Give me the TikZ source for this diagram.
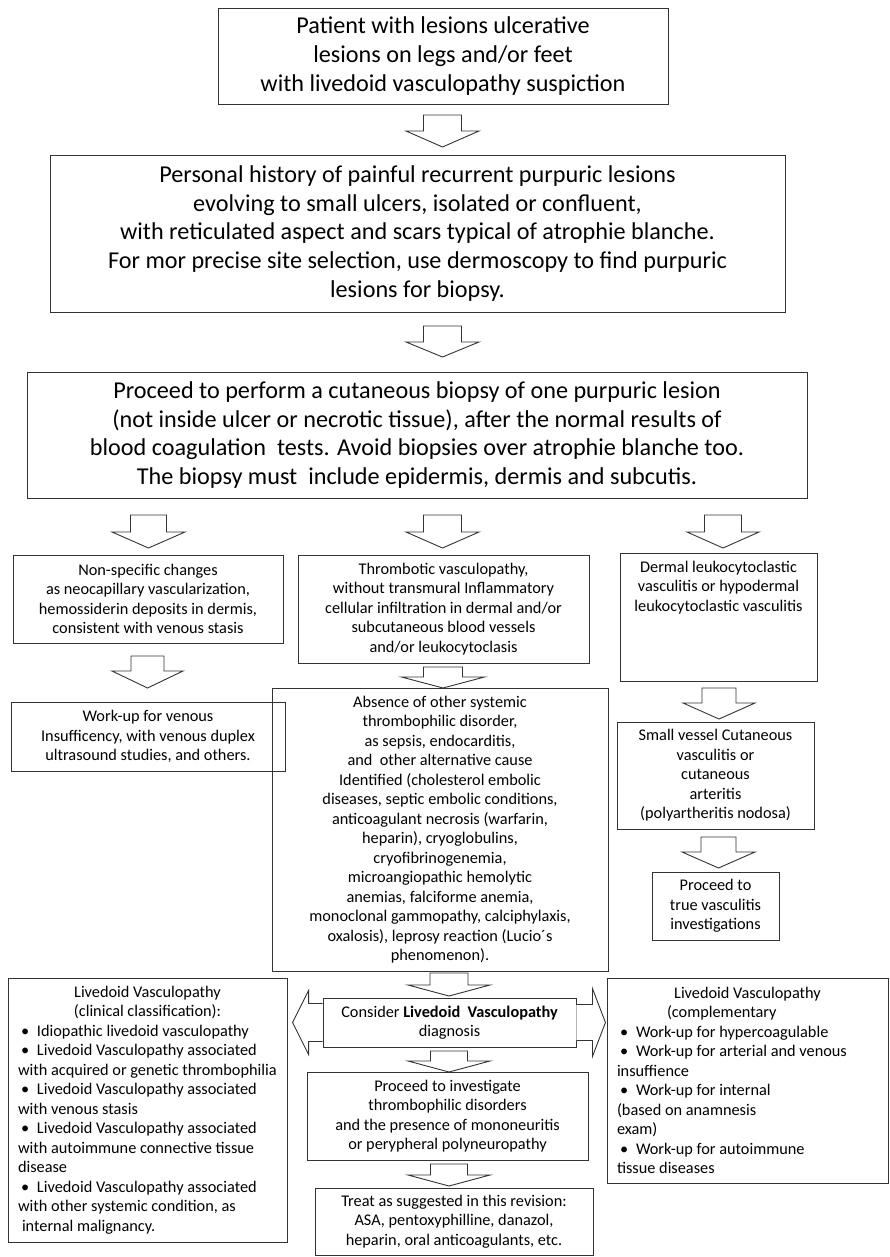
\documentclass[tikz,border=0pt]{standalone}
\usepackage{fontspec}
\setmainfont{Carlito}
\newcommand{\bigfont}{\fontsize{24.2}{28.6}\selectfont}
\newcommand{\smallfont}{\fontsize{16.3}{19.5}\selectfont}
\newcommand{\bul}{\hspace*{3pt}\makebox[16pt][l]{\textbullet}}
\tikzset{
  box/.style={draw=black!80, line width=0.9pt, align=center, inner sep=0pt},
  bigbox/.style={box, font=\bigfont},
  smallbox/.style={box, font=\smallfont},
  listbox/.style={box, font=\smallfont, align=left},
  blockarrow/.style={draw=black!80, line width=0.9pt, fill=white, line join=miter},
  % down block arrow: stem half width, head half width, length, stem length
  pics/dnarrow/.style n args={4}{code={
    \draw[blockarrow] (-#1,0) -- (#1,0) -- (#1,#4) -- (#2,#4) -- (0,#3)
      -- (-#2,#4) -- (-#1,#4) -- cycle;
  }},
  pics/ltarrow/.style n args={4}{code={
    \draw[blockarrow] (0,-#1) -- (-#4,-#1) -- (-#4,-#2) -- (-#3,0)
      -- (-#4,#2) -- (-#4,#1) -- (0,#1);
  }},
  pics/rtarrow/.style n args={4}{code={
    \draw[blockarrow] (0,-#1) -- (#4,-#1) -- (#4,-#2) -- (#3,0)
      -- (#4,#2) -- (#4,#1) -- (0,#1);
  }}
}
\begin{document}
\begin{tikzpicture}[x=1pt, y=-1pt]
\useasboundingbox (0,0) rectangle (889,1257);

% main column
\node[bigbox, minimum width=450, minimum height=96] (patient) at (443,56)
  {Patient with lesions ulcerative\\lesions on legs and/or feet\\with livedoid vasculopathy suspiction};
\node[bigbox, minimum width=735, minimum height=157] (history) at (417.5,233.5)
  {Personal history of painful recurrent purpuric lesions\\evolving to small ulcers, isolated or confluent,\\with reticulated aspect and scars typical of atrophie blanche.\\For mor precise site selection, use dermoscopy to find purpuric\\lesions for biopsy.};
\node[bigbox, minimum width=780, minimum height=126] (biopsy) at (417,435)
  {Proceed to perform a cutaneous biopsy of one purpuric lesion\\(not inside ulcer or necrotic tissue), after the normal results of\\blood coagulation\ \ tests. Avoid biopsies over atrophie blanche too.\\The biopsy must\ \ include epidermis, dermis and subcutis.};

% three findings
\node[smallbox, minimum width=270, minimum height=88] (nonspec) at (148,599)
  {Non-specific changes\\as neocapillary vascularization,\\hemossiderin deposits in dermis,\\consistent with venous stasis};
\node[smallbox, minimum width=291, minimum height=108] (thromb) at (443.5,609)
  {Thrombotic vasculopathy,\\without transmural Inflammatory\\cellular infiltration in dermal and/or\\subcutaneous blood vessels\\and/or leukocytoclasis};
\node[smallbox, minimum width=197, minimum height=128] (leuko) at (718.5,617)
  {\parbox[c][112pt][t]{190pt}{\centering Dermal leukocytoclastic\\vasculitis or hypodermal\\leukocytoclastic vasculitis}};

\node[smallbox, minimum width=274, minimum height=69] (venous) at (148,736.5)
  {Work-up for venous\\Insufficency, with venous duplex\\ultrasound studies, and others.};
\node[smallbox, minimum width=336, minimum height=283] (absence) at (440,829.5)
  {Absence of other systemic\\thrombophilic disorder,\\as sepsis, endocarditis,\\and\ \ other alternative cause\\Identified (cholesterol embolic\\diseases, septic embolic conditions,\\anticoagulant necrosis (warfarin,\\heparin), cryoglobulins,\\cryofibrinogenemia,\\microangiopathic hemolytic\\anemias, falciforme anemia,\\monoclonal gammopathy, calciphylaxis,\\oxalosis), leprosy reaction (Lucio´s\\phenomenon).};
\node[smallbox, minimum width=197, minimum height=107] (vessel) at (715.5,775.5)
  {Small vessel Cutaneous\\vasculitis or\\cutaneous\\arteritis\\(polyartheritis nodosa)};
\node[smallbox, minimum width=127, minimum height=68] (trueinv) at (715.5,906)
  {Proceed to\\true vasculitis\\investigations};

% diagnosis and side lists
\node[smallbox, minimum width=253, minimum height=49] (consider) at (449.5,1022.5)
  {Consider \textbf{Livedoid\ \ Vasculopathy}\\diagnosis};
\node[smallbox, minimum width=281, minimum height=88] (investig) at (447.5,1116)
  {Proceed to investigate\\thrombophilic disorders\\and the presence of mononeuritis\\or perypheral polyneuropathy};
\node[smallbox, minimum width=278, minimum height=67] (treat) at (454,1221.5)
  {Treat as suggested in this revision:\\ASA, pentoxyphilline, danazol,\\heparin, oral anticoagulants, etc.};

\node[listbox, minimum width=279, minimum height=264] (classif) at (147.5,1110)
  {\makebox[259pt][c]{Livedoid Vasculopathy}\\
   \makebox[259pt][c]{(clinical classification):}\\
   \bul Idiopathic livedoid vasculopathy\\
   \bul Livedoid Vasculopathy associated\\
   with acquired or genetic thrombophilia\\
   \bul Livedoid Vasculopathy associated\\
   with venous stasis\\
   \bul Livedoid Vasculopathy associated\\
   with autoimmune connective tissue\\
   disease\\
   \bul Livedoid Vasculopathy associated\\
   with other systemic condition, as\\
   \hspace*{4pt}internal malignancy.};
\node[listbox, minimum width=281, minimum height=205] (complem) at (747.5,1080.5)
  {\makebox[261pt][c]{Livedoid Vasculopathy}\\
   \hspace*{50pt}(complementary\\
   \bul Work-up for hypercoagulable\\
   \bul Work-up for arterial and venous\\
   insuffience\\
   \bul Work-up for internal\\
   (based on anamnesis\\
   exam)\\
   \bul Work-up for autoimmune\\
   tissue diseases};

% block arrows
\pic at (442.5,115) {dnarrow={19}{36.5}{32}{16}};
\pic at (442.5,326) {dnarrow={19}{36.5}{31}{16}};
\pic at (148.5,515) {dnarrow={18}{36.5}{33}{17}};
\pic at (442.5,515) {dnarrow={19}{36.5}{33}{17}};
\pic at (723,515) {dnarrow={18.5}{36}{33}{17}};
\pic at (147.5,656) {dnarrow={16.5}{35.5}{32}{15}};
\pic at (443,667) {dnarrow={19.5}{41.5}{21}{10}};
\pic at (719,688) {dnarrow={17}{36}{31}{15}};
\pic at (718.5,837) {dnarrow={17.5}{36.5}{31}{15}};
\pic at (449,973) {dnarrow={19}{41}{23}{12}};
\pic at (449,1051) {dnarrow={18.5}{41}{21}{10}};
\pic at (449,1164) {dnarrow={18.5}{41}{22}{11}};
\pic at (consider.west) {ltarrow={19}{32}{30}{14}};
\pic at (consider.east) {rtarrow={18}{34}{29}{16}};
\end{tikzpicture}
\end{document}
